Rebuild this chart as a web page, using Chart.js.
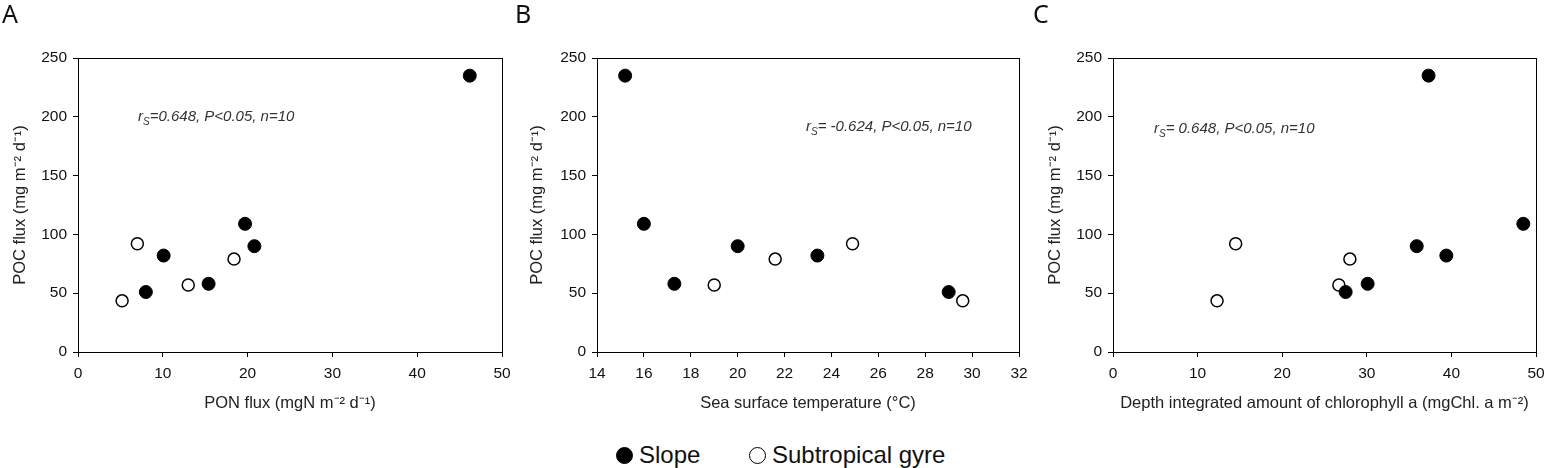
<!DOCTYPE html>
<html>
<head>
<meta charset="utf-8">
<script src="https://cdn.jsdelivr.net/npm/chart.js@4.4.1/dist/chart.umd.min.js"></script>
<style>
  body { margin: 0; background: #fff; width: 1544px; height: 468px; position: relative; overflow: hidden; font-family: "Liberation Sans", Arial, sans-serif; }
  .panel { position: absolute; top: 0; height: 420px; }
  .letter { position: absolute; top: 1px; font-family: "Noto Sans", sans-serif; font-size: 25px; line-height: 1; color: #111; }
  .stat { position: absolute; font-style: italic; font-size: 15px; color: #333; white-space: nowrap; line-height: 18px; }
  .stat sub { font-size: 10px; vertical-align: -4px; }
  .legend { position: absolute; top: 441px; font-size: 24px; line-height: 28px; color: #111; white-space: nowrap; }
  .dot { display: inline-block; width: 17px; height: 17px; border-radius: 50%; border: 1.5px solid #000; box-sizing: border-box; vertical-align: -1px; margin-right: 6px; }
</style>
</head>
<body>
<div class="panel" style="left:0;width:515px"><canvas id="chartA" width="515" height="420"></canvas></div>
<div class="panel" style="left:515px;width:515px"><canvas id="chartB" width="515" height="420"></canvas></div>
<div class="panel" style="left:1030px;width:514px"><canvas id="chartC" width="514" height="420"></canvas></div>

<div class="letter" style="left:2px">A</div>
<div class="letter" style="left:515px">B</div>
<div class="letter" style="left:1033px">C</div>

<div class="stat" style="left:138px;top:107px">r<sub>S</sub>=0.648, P&lt;0.05, n=10</div>
<div class="stat" style="left:806px;top:117px">r<sub>S</sub>= -0.624, P&lt;0.05, n=10</div>
<div class="stat" style="left:1154px;top:119px">r<sub>S</sub>= 0.648, P&lt;0.05, n=10</div>

<div class="legend" style="left:616px"><span class="dot" style="background:#000"></span>Slope</div>
<div class="legend" style="left:749px"><span class="dot" style="background:#fff"></span>Subtropical gyre</div>

<script>
// POC flux (mg m-2 d-1)
const slopePOC = [235, 109, 90, 82, 58, 51];
const gyrePOC = [92, 79, 57, 43.5];

// PON flux
const slopePON = [46.2, 19.7, 20.8, 10.1, 15.4, 8.0];
const gyrePON = [7.0, 18.4, 13.0, 5.2];

// sea surface temperature
const slopeSST = [15.2, 16.0, 20.0, 23.4, 17.3, 29.0];
const gyreSST = [24.9, 21.6, 19.0, 29.6];

// depth integrated chlorophyll a
const slopeChl = [37.3, 48.5, 35.9, 39.4, 30.1, 27.5];
const gyreChl = [14.5, 28.0, 26.7, 12.3];

const yTicks = [0, 50, 100, 150, 200, 250];

function pairs(xs, ys){
    return xs.map((x, i) => ({x: x, y: ys[i]}));
}

const frame = {
    id: 'frame',
    afterDraw(chart){
        const {ctx, chartArea: a} = chart;
        ctx.save();
        ctx.strokeStyle = '#000';
        ctx.lineWidth = 1;
        ctx.strokeRect(a.left + 0.5, a.top + 0.5, a.right - a.left, a.bottom - a.top);
        ctx.restore();
    }
};

function makeChart(id, slopeX, gyreX, xOpts, xTitle, yWidth, rightPad, yTitlePad){
    const tickFont = {family: '"Liberation Sans", Arial, sans-serif', size: 15.5};
    const titleFont = {family: '"Liberation Sans", Arial, sans-serif', size: 16.5};
    return new Chart(document.getElementById(id), {
        type: 'scatter',
        data: {
            datasets: [
                {
                    label: 'Slope',
                    data: pairs(slopeX, slopePOC),
                    backgroundColor: '#000',
                    borderColor: '#000',
                    pointRadius: 6.5,
                    borderWidth: 1
                },
                {
                    label: 'Subtropical gyre',
                    data: pairs(gyreX, gyrePOC),
                    backgroundColor: '#fff',
                    borderColor: '#000',
                    pointRadius: 6,
                    borderWidth: 1.5
                }
            ]
        },
        options: {
            responsive: false,
            animation: false,
            layout: {padding: {top: 58, right: rightPad, left: 0, bottom: 0}},
            plugins: {legend: {display: false}, tooltip: {enabled: false}},
            scales: {
                x: {
                    type: 'linear',
                    min: xOpts.min,
                    max: xOpts.max,
                    ticks: {stepSize: xOpts.step, color: '#111', font: tickFont, padding: 7, maxRotation: 0},
                    grid: {drawOnChartArea: false, drawTicks: true, tickLength: 5, tickColor: '#000'},
                    border: {display: true, color: '#000', width: 1},
                    title: {display: true, text: xTitle, color: '#222', font: titleFont, padding: {top: 0, bottom: 7}},
                    afterFit(s){ s.height = 68; s.paddingRight = 0; s.paddingLeft = 0; }
                },
                y: {
                    type: 'linear',
                    min: 0,
                    max: 250,
                    afterBuildTicks(s){ s.ticks = yTicks.map(v => ({value: v})); },
                    ticks: {color: '#111', font: tickFont, padding: 6},
                    grid: {drawOnChartArea: false, drawTicks: true, tickLength: 5, tickColor: '#000'},
                    border: {display: true, color: '#000', width: 1},
                    title: {display: true, text: 'POC flux (mg m⁻² d⁻¹)', color: '#222', font: titleFont, padding: {top: yTitlePad, bottom: 0}},
                    afterFit(s){ s.width = yWidth; s.paddingTop = 0; s.paddingBottom = 0; }
                }
            }
        },
        plugins: [frame]
    });
}

makeChart('chartA', slopePON, gyrePON, {min: 0, max: 50, step: 10},
    'PON flux (mgN m⁻² d⁻¹)', 78, 13, 11);
makeChart('chartB', slopeSST, gyreSST, {min: 14, max: 32, step: 2},
    'Sea surface temperature (°C)', 82, 11, 13);
makeChart('chartC', slopeChl, gyreChl, {min: 0, max: 50, step: 10},
    'Depth integrated amount of chlorophyll a (mgChl. a m⁻²)', 83, 8, 16);
</script>
</body>
</html>
